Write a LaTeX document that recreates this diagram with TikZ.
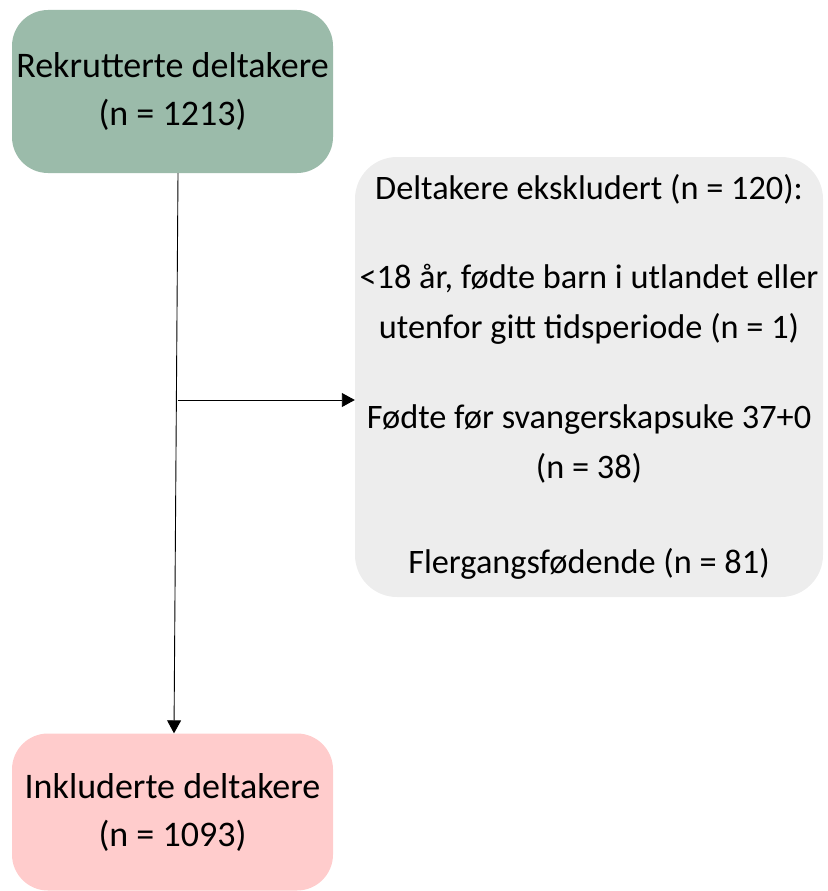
\documentclass[tikz,border=0pt]{standalone}
\usepackage{fontspec}
\setmainfont{Carlito}
\usepackage{tikz}
\usetikzlibrary{arrows.meta, positioning}

\definecolor{rekgreen}{HTML}{9BBBAA}
\definecolor{eksgray}{HTML}{EDEDED}
\definecolor{inkpink}{HTML}{FFCCCC}

\begin{document}
\begin{tikzpicture}[x=1pt, y=-1pt, >={Triangle[length=13pt, width=14pt]},
    box/.style={rounded corners=36pt, inner sep=0pt, align=center,
        font=\fontsize{36}{48}\selectfont},
    link/.style={->, line width=0.9pt}]
        \useasboundingbox (0,0) rectangle (827,891);

        % Boxes
        \node [box, fill=rekgreen, minimum width=321pt, minimum height=163pt] (rek) at (172.5, 91.5)
            {Rekrutterte deltakere\\(n = 1213)};
        \node [box, fill=eksgray, minimum width=468pt, minimum height=440pt, rounded corners=42pt,
            font=\fontsize{34.3}{50}\selectfont] (eks) at (589, 377)
            {Deltakere ekskludert (n = 120):\\[39pt]
             <18 år, fødte barn i utlandet eller\\utenfor gitt tidsperiode (n = 1)\\[40pt]
             Fødte før svangerskapsuke 37+0\\(n = 38)\\[45pt]
             Flergangsfødende (n = 81)};
        \node [box, fill=inkpink, minimum width=321pt, minimum height=157pt] (ink) at (172.5, 812)
            {Inkluderte deltakere\\(n = 1093)};

        % Arrows
        \draw [link] ([xshift=5.5pt]rek.south) -- ([xshift=1.5pt]ink.north);
        \coordinate (split) at (177.5, 400);
        \draw [link] (split) -- (split -| eks.west);
    \end{tikzpicture}
\end{document}
